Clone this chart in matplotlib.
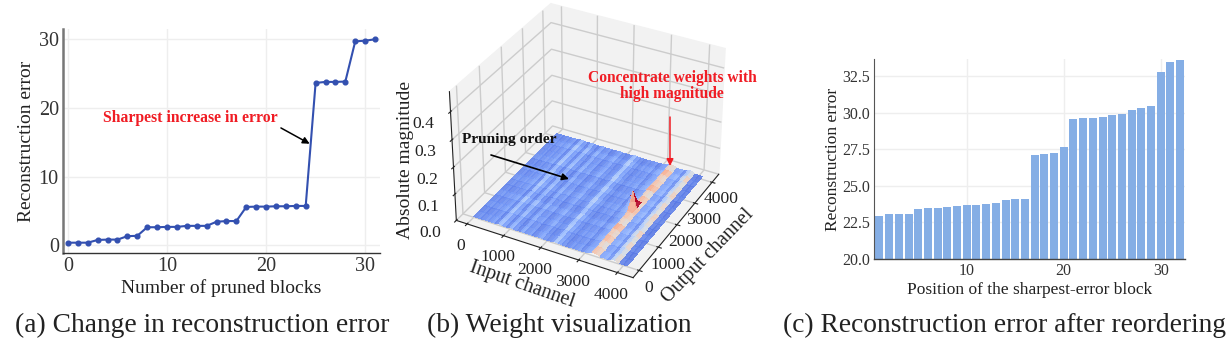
import numpy as np
import matplotlib
matplotlib.use('Agg')
import matplotlib.pyplot as plt
from matplotlib import cm
from matplotlib.colors import Normalize

plt.rcParams['font.family'] = ['Liberation Serif', 'DejaVu Serif']

W, H = 1230, 354

# (a) error vs number of pruned blocks
pruned_blocks = list(range(32))
pruned_error = [0.4, 0.4, 0.4, 0.8, 0.85, 0.85, 1.35, 1.4, 2.65, 2.65, 2.7, 2.7,
                2.85, 2.85, 2.85, 3.45, 3.55, 3.55, 5.6, 5.65, 5.65, 5.7, 5.7,
                5.75, 5.75, 23.65, 23.8, 23.8, 23.85, 29.7, 29.8, 30.0]

# (b) weight surface: one level per input-channel stripe, one per output row
input_channel = [0, 100, 200, 300, 400, 500, 600, 700, 800, 900, 1000, 1100, 1200,
                 1300, 1400, 1500, 1600, 1700, 1800, 1900, 2000, 2100, 2200, 2300,
                 2400, 2500, 2600, 2700, 2800, 2900, 3000, 3100, 3200, 3300, 3400,
                 3500, 3600, 3700, 3800, 3900, 4000, 4096]
stripe_level = [.0030, .0034, .0030, .0036, .0034, .0042, .0030, .0062, .0042, .0030, .0056, .0036,
                .0028, .0048, .0034, .0040, .0028, .0036, .0046, .0034, .0030, .0036, .0066, .0044,
                .0034, .0028, .0036, .0034, .0040, .0030, .0044, .0050, .0125, .0115, .0044, .0050,
                .0036, .0080, .0105, .0026, .0024, .0024]
output_channel = [0, 256, 512, 768, 1024, 1280, 1536, 1792, 2048, 2304, 2560, 2816,
                  3072, 3328, 3584, 3840, 4096]
row_level = [1.0, .9, 1.05, .95, 1.1, .9, 1.0, 1.1, .95, 1.05, .9, 1.1, 1.0, .95, 1.1, .9, 1.05]
spike_inputs = [3100, 3200]
spike_output = 2048
spike_heights = [0.03, 0.07]

# (c) error by position of the sharpest-error block
positions = list(range(1, 33))
position_error = [22.95, 23.05, 23.05, 23.1, 23.45, 23.5, 23.52, 23.58, 23.62, 23.68,
                  23.72, 23.73, 23.8, 24.03, 24.08, 24.12, 27.12, 27.18, 27.22, 27.68,
                  29.6, 29.62, 29.67, 29.72, 29.87, 29.92, 30.2, 30.3, 30.47, 32.75,
                  33.45, 33.6]

captions = ['(a) Change in reconstruction error', '(b) Weight visualization',
            '(c) Reconstruction error after reordering']


def box(left, top, right, bottom):
    return [left / W, 1 - bottom / H, (right - left) / W, (bottom - top) / H]


def fpx(x, y):
    return (x / W, 1 - y / H)


def style_2d(ax, tick_size):
    for s in ['top', 'right']:
        ax.spines[s].set_visible(False)
    ax.grid(True, color='#eeeeee', lw=1)
    ax.set_axisbelow(True)
    ax.tick_params(length=0, labelsize=tick_size, colors='#333333')


fig = plt.figure(figsize=(W / 100, H / 100), dpi=100)

# panel a
ax1 = fig.add_axes(box(63, 29, 380, 253))
ax1.plot(pruned_blocks, pruned_error, '-o', color='#3350b0', lw=1.5, ms=3.4)
ax1.set_xlim(-0.5, 31.5)
ax1.set_ylim(-1.1, 31.5)
ax1.set_xticks([0, 10, 20, 30])
ax1.set_yticks([0, 10, 20, 30])
style_2d(ax1, 14.5)
ax1.spines['left'].set_color('#777777')
ax1.spines['left'].set_linewidth(1.8)
ax1.spines['bottom'].set_color('#333333')
ax1.spines['bottom'].set_linewidth(1.0)
ax1.tick_params(axis='x', pad=3)
ax1.tick_params(axis='y', pad=3)
ax1.set_xlabel('Number of pruned blocks', fontsize=14, color='#222222', labelpad=2)
ax1.set_ylabel('Reconstruction error', fontsize=14, color='#222222', labelpad=3)
ax1.annotate('', xy=(24.4, 14.8), xytext=(21.5, 17.1),
             arrowprops=dict(arrowstyle='-|>', color='black', lw=1.1, shrinkA=0, shrinkB=0))
ax1.text(12.4, 18.5, 'Sharpest increase in error', color='#f01c24', fontsize=11.3,
         fontweight='bold', ha='center', va='center')

# panel b
ax2 = fig.add_axes(box(408, -16, 764, 294), projection='3d', computed_zorder=False)
ax2.set_box_aspect((4, 4, 3.05))
X, Y = np.meshgrid(input_channel, output_channel)
Z = np.outer(row_level, stripe_level)
for xi, h in zip(spike_inputs, spike_heights):
    Z[output_channel.index(spike_output), input_channel.index(xi)] = h
norm = Normalize(0, 0.02)
ax2.plot_surface(X, Y, Z, facecolors=cm.coolwarm(norm(Z)), rstride=1, cstride=1,
                 shade=False, antialiased=False, linewidth=0, alpha=0.9)
ax2.view_init(elev=33, azim=-62)
ax2.set_xlim(-300, 4400)
ax2.set_ylim(-300, 4400)
ax2.set_zlim(0, 0.47)
ax2.set_xticks([0, 1000, 2000, 3000, 4000])
ax2.set_yticks([0, 1000, 2000, 3000, 4000])
ax2.set_zticks([0.0, 0.1, 0.2, 0.3, 0.4])
ax2.tick_params(labelsize=12.6, colors='#222222')
ax2.tick_params(axis='x', pad=-1)
ax2.tick_params(axis='y', pad=-2)
ax2.tick_params(axis='z', pad=3)
# z axis on the left hand side, as in the figure
ax2.zaxis.set_ticks_position('lower')
ax2.zaxis.set_label_position('lower')
for a in [ax2.xaxis, ax2.yaxis, ax2.zaxis]:
    a.set_pane_color('#f2f2f2')
    a._axinfo['grid']['color'] = '#cccccc'
    a._axinfo['grid']['linewidth'] = 1.0
    a.line.set_color('#222222')

fig.text(*fpx(522, 285), 'Input channel', fontsize=14.5, rotation=-19, color='#222222',
         ha='center', va='center')
fig.text(*fpx(708, 256), 'Output channel', fontsize=14.5, rotation=46, color='#222222',
         ha='center', va='center')
fig.text(*fpx(405, 160), 'Absolute magnitude', fontsize=14, rotation=90, color='#222222',
         ha='center', va='center')

fig.text(*fpx(509, 139), 'Pruning order', fontsize=11.1, fontweight='bold',
         color='#111111', ha='center', va='center')
fig.add_artist(plt.Annotation('', xy=fpx(569, 179), xytext=fpx(491, 155),
                              xycoords='figure fraction', textcoords='figure fraction',
                              arrowprops=dict(arrowstyle='-|>', color='black', lw=1.2,
                                              shrinkA=0, shrinkB=0)))
fig.text(*fpx(672, 78), 'Concentrate weights with', fontsize=11.2, fontweight='bold',
         color='#f01c24', ha='center', va='center')
fig.text(*fpx(672, 94), 'high magnitude', fontsize=11.2, fontweight='bold',
         color='#f01c24', ha='center', va='center')
fig.add_artist(plt.Annotation('', xy=fpx(670, 166), xytext=fpx(670, 117),
                              xycoords='figure fraction', textcoords='figure fraction',
                              arrowprops=dict(arrowstyle='-|>', color='#f01c24', lw=1.1,
                                              shrinkA=0, shrinkB=0)))

# panel c
ax3 = fig.add_axes(box(874.3, 59.3, 1185, 259))
ax3.bar(positions, position_error, width=0.82, color='#85aee5')
ax3.set_xlim(0.47, 32.5)
ax3.set_ylim(20, 33.65)
ax3.set_xticks([10, 20, 30])
ax3.set_yticks([20, 22.5, 25, 27.5, 30, 32.5])
ax3.set_yticklabels(['20.0', '22.5', '25.0', '27.5', '30.0', '32.5'])
style_2d(ax3, 11.5)
ax3.spines['left'].set_color('#555555')
ax3.spines['bottom'].set_color('#444444')
ax3.spines['bottom'].set_linewidth(1.0)
ax3.tick_params(axis='x', pad=3)
ax3.tick_params(axis='y', pad=3)
ax3.set_xlabel('Position of the sharpest-error block', fontsize=12.5, color='#222222', labelpad=2)
ax3.set_ylabel('Reconstruction error', fontsize=12.5, color='#222222', labelpad=1)

# captions
fig.text(*fpx(15, 325), captions[0], fontsize=19.8, color='#222222', va='center')
fig.text(*fpx(427, 325), captions[1], fontsize=19.8, color='#222222', va='center')
fig.text(*fpx(783, 325), captions[2], fontsize=19.8, color='#222222', va='center')

fig.savefig('out.png', dpi=100)
